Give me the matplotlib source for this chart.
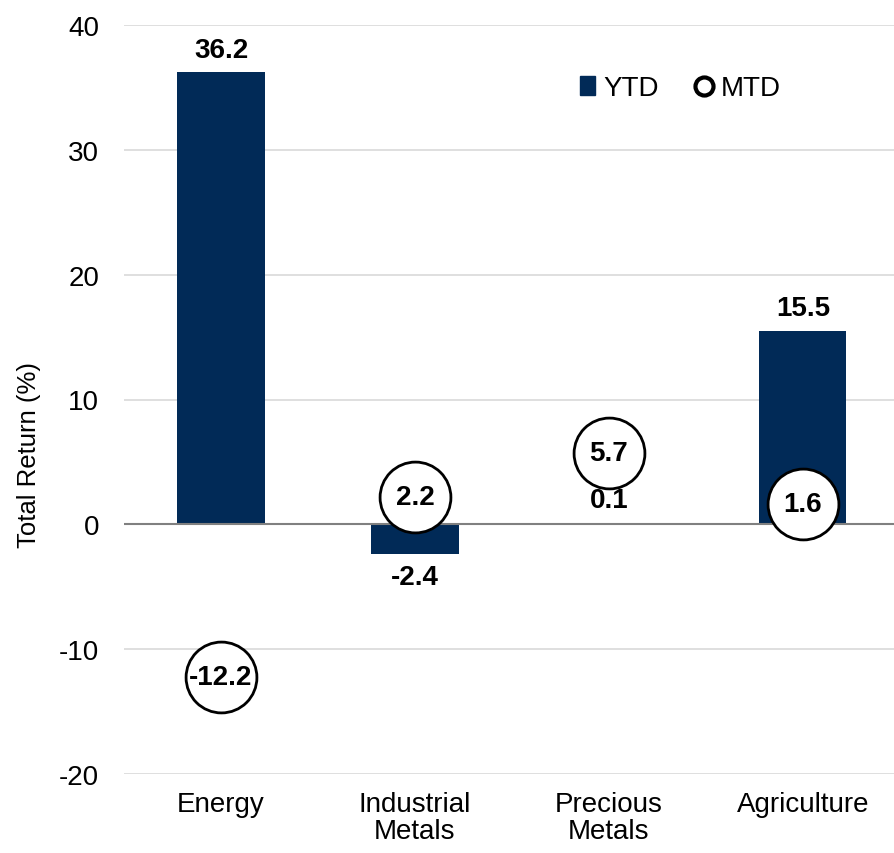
import numpy as np
import matplotlib.pyplot as plt

plt.rcParams['font.family'] = ['Liberation Sans', 'DejaVu Sans']
plt.rcParams['axes.unicode_minus'] = False

# data
categories = ['Energy', 'Industrial\nMetals', 'Precious\nMetals', 'Agriculture']
ytd = [36.2, -2.4, 0.1, 15.5]
mtd = [-12.2, 2.2, 5.7, 1.6]

navy = '#012a57'

fig = plt.figure(figsize=(8.94, 8.54), dpi=100)
ax = fig.add_axes([124 / 894, 79 / 854, 770 / 894, 749 / 854])

x = np.arange(len(categories))
ax.bar(x, ytd, width=0.45, color=navy, zorder=2, label='YTD')
ax.plot(x, mtd, linestyle='none', marker='o', markersize=51, markerfacecolor='white',
        markeredgecolor='black', markeredgewidth=2, zorder=3, label='MTD')

# bar labels
for xi, v in zip(x, ytd):
    if v >= 0:
        ax.annotate(f'{v:.1f}', (xi, v), xytext=(0, 7), textcoords='offset points',
                    ha='center', va='bottom', fontsize=20, fontweight='bold')
    else:
        ax.annotate(f'{v:.1f}', (xi, v), xytext=(0, -7), textcoords='offset points',
                    ha='center', va='top', fontsize=20, fontweight='bold')

# circle labels
for xi, v in zip(x, mtd):
    ax.text(xi, v, f'{v:.1f}', ha='center', va='center', fontsize=20,
            fontweight='bold', zorder=4)

ax.set_xlim(-0.5, 3.47)
ax.set_ylim(-20, 40)
ax.set_yticks(np.arange(-20, 41, 10))
ax.set_xticks(x)
ax.set_xticklabels(categories, fontsize=20, linespacing=1.05)
ax.tick_params(axis='y', labelsize=20, length=0, pad=18)
ax.tick_params(axis='x', length=0, pad=12)
ax.grid(axis='y', color='#d9d9d9', linewidth=1.2, zorder=0)
ax.axhline(0, color='#808080', linewidth=1.5, zorder=2.5)
for s in ax.spines.values():
    s.set_visible(False)
ax.set_ylabel('Total Return (%)', fontsize=18.5)
ax.yaxis.set_label_coords(-0.108, 0.427)

h1 = plt.Rectangle((0, 0), 1, 1, color=navy)
h2 = plt.Line2D([], [], linestyle='none', marker='o', markersize=13,
                markerfacecolor='white', markeredgecolor='black', markeredgewidth=3)
ax.legend([h1, h2], ['YTD', 'MTD'], loc='upper left', bbox_to_anchor=(0.56, 0.966),
          ncol=2, frameon=False, fontsize=20, handlelength=0.55, handletextpad=0.3,
          columnspacing=1.35)

fig.savefig('out.png', dpi=100)
